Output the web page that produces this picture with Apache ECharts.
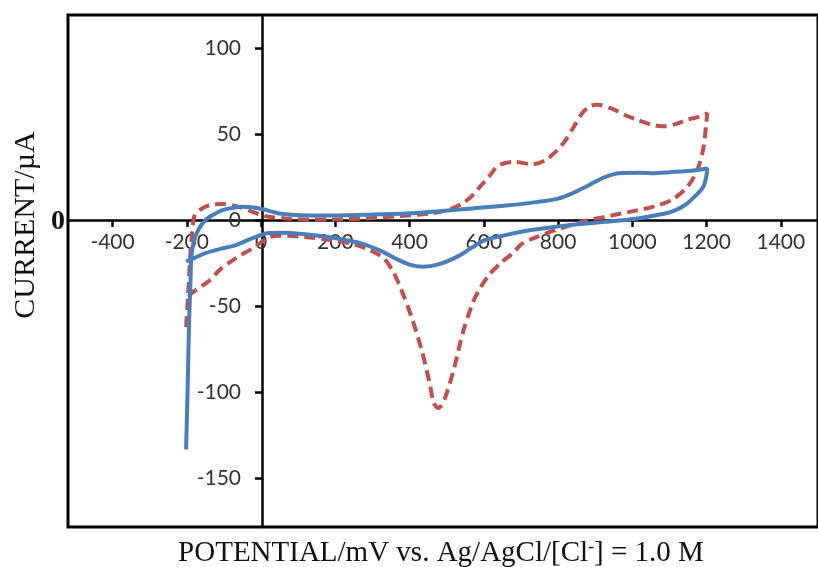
<!DOCTYPE html>
<html>
<head>
<meta charset="utf-8">
<script src="https://cdn.jsdelivr.net/npm/echarts@6/dist/echarts.min.js"></script>
<style>
  html, body { margin: 0; padding: 0; background: #fff; }
  #chart { width: 818px; height: 567px; }
</style>
</head>
<body>
<div id="chart"></div>
<script>
// tick labels
const xTicks = [-400, -200, 0, 200, 400, 600, 800, 1000, 1200, 1400]
const yTicks = [-150, -100, -50, 0, 50, 100]

// blue solid curve, in sweep order [potential mV, current uA]
const bluePotential = [-202, -198, -194, -190, -188, -182, -170, -150, -130, -104, -75, -51, -25, -5, 20, 48, 110, 200, 300, 391, 480, 570, 660, 747, 800, 838, 880, 926, 971, 1020, 1060, 1100, 1148, 1202,
  1199, 1190, 1167, 1140, 1105, 1060, 1015, 926, 860, 792, 720, 658, 602, 570, 530, 480, 436, 400, 360, 324, 270, 200, 130, 66, 21, -23, -68, -104, -148, -180, -202]
const blueCurrent = [-133, -100, -60, -35, -22, -13, -6, 0, 3, 5.8, 7.2, 7.7, 7.5, 6.8, 5.5, 3.9, 2.9, 2.7, 3.2, 3.9, 5.2, 6.8, 8.5, 10.6, 12.5, 15.5, 20, 25, 27.4, 27.5, 27.2, 27.8, 28.5, 30,
  25, 19, 13.5, 8.5, 4.8, 2.7, 1, -1, -2.3, -3.9, -6, -8.7, -11.6, -15.6, -21, -25.5, -27, -25.8, -22, -18, -13.5, -10.5, -8.5, -7.3, -7.5, -10.5, -14.5, -16.4, -19, -22, -24]

// red dashed curve, in sweep order
const redPotential = [-202, -197, -192, -186, -180, -166, -139, -104, -59, -23, 13, 66, 128, 190, 281, 369, 458, 511, 545, 570, 592, 613, 640, 685, 730, 765, 795, 819, 842, 864, 885, 905, 945, 980, 1015, 1050, 1087, 1120, 1148, 1180, 1202,
  1199, 1195, 1190, 1175, 1148, 1105, 1060, 1015, 926, 881, 792, 740, 704, 677, 645, 613, 586, 570, 543, 521, 494, 477, 465, 454, 432, 405, 378, 356, 330, 289, 250, 190, 102, 50, 21, -23, -68, -112, -139, -175, -185, -202]
const redCurrent = [-62, -45, -25, -8, 2, 5.8, 8.7, 9.3, 7.7, 4.8, 2.3, 1, 0.4, 0.4, 1, 2.3, 3.9, 6.5, 10, 14.5, 20, 25, 31.8, 33.8, 32.4, 34.7, 40, 46, 54, 61.8, 66, 67, 64.7, 61, 58, 55.5, 54.4, 56, 58.3, 60, 62,
  56, 48, 40.5, 29, 19.3, 11.6, 8, 5.8, 1.9, 0, -5.8, -10, -13.5, -19.3, -25, -32, -41, -48, -65.6, -85, -104, -109, -106, -94.5, -75, -56, -40.5, -30, -22, -17, -14, -11.6, -9.5, -9, -10, -16.4, -22, -29, -35, -40.5, -42, -46]

const pair = (xs, ys) => xs.map((x, i) => [x, ys[i]])

const chart = echarts.init(document.getElementById('chart'))

const tickLabel = { color: '#333', fontFamily: 'Lato', fontSize: 21, formatter: v => String(v) }
const axisStroke = { color: '#000', width: 2.5 }

chart.setOption({
  animation: false,
  grid: {
    left: 68, top: 15, right: -5, bottom: 40,
    show: true, borderColor: '#000', borderWidth: 3
  },
  xAxis: {
    type: 'value',
    min: -520, max: 1500,
    position: 'bottom',
    offset: -307,   // move the axis up to y = 0
    axisLine: { onZero: false, lineStyle: axisStroke },
    axisTick: { customValues: xTicks, length: 7, lineStyle: axisStroke },
    axisLabel: Object.assign({ customValues: xTicks, margin: 12 }, tickLabel),
    splitLine: { show: false }
  },
  yAxis: {
    type: 'value',
    min: -178, max: 119,
    position: 'left',
    offset: -194,   // move the axis right to x = 0
    axisLine: { onZero: false, lineStyle: axisStroke },
    axisTick: { customValues: yTicks, length: 7, lineStyle: axisStroke },
    axisLabel: Object.assign({ customValues: yTicks, margin: 21 }, tickLabel),
    splitLine: { show: false }
  },
  series: [
    {
      type: 'line',
      data: pair(redPotential, redCurrent),
      showSymbol: false,
      smooth: 0.3,
      lineStyle: { color: '#C0504D', width: 4, type: [11, 6] },
      z: 2
    },
    {
      type: 'line',
      data: pair(bluePotential, blueCurrent),
      showSymbol: false,
      smooth: 0.3,
      lineStyle: { color: '#4A7EBB', width: 4 },
      z: 3
    }
  ],
  graphic: [
    {
      type: 'text', x: 441, y: 553,
      style: {
        text: 'POTENTIAL/mV vs. Ag/AgCl/[Cl{sup|-}] = 1.0 M',
        font: '29px "Liberation Serif"', fill: '#111',
        align: 'center', verticalAlign: 'middle',
        rich: { sup: { font: '18px "Liberation Serif"', fill: '#111', verticalAlign: 'top', padding: [0, 0, 10, 0] } }
      }
    },
    {
      type: 'text', x: 26, y: 225, rotation: Math.PI / 2,
      style: {
        text: 'CURRENT/µA', font: '30px "Liberation Serif"', fill: '#111',
        align: 'center', verticalAlign: 'middle'
      }
    },
    {
      type: 'text', x: 58, y: 222,
      style: {
        text: '0', font: 'bold 28px "Liberation Serif"', fill: '#111',
        align: 'center', verticalAlign: 'middle'
      }
    }
  ]
})
</script>
</body>
</html>
